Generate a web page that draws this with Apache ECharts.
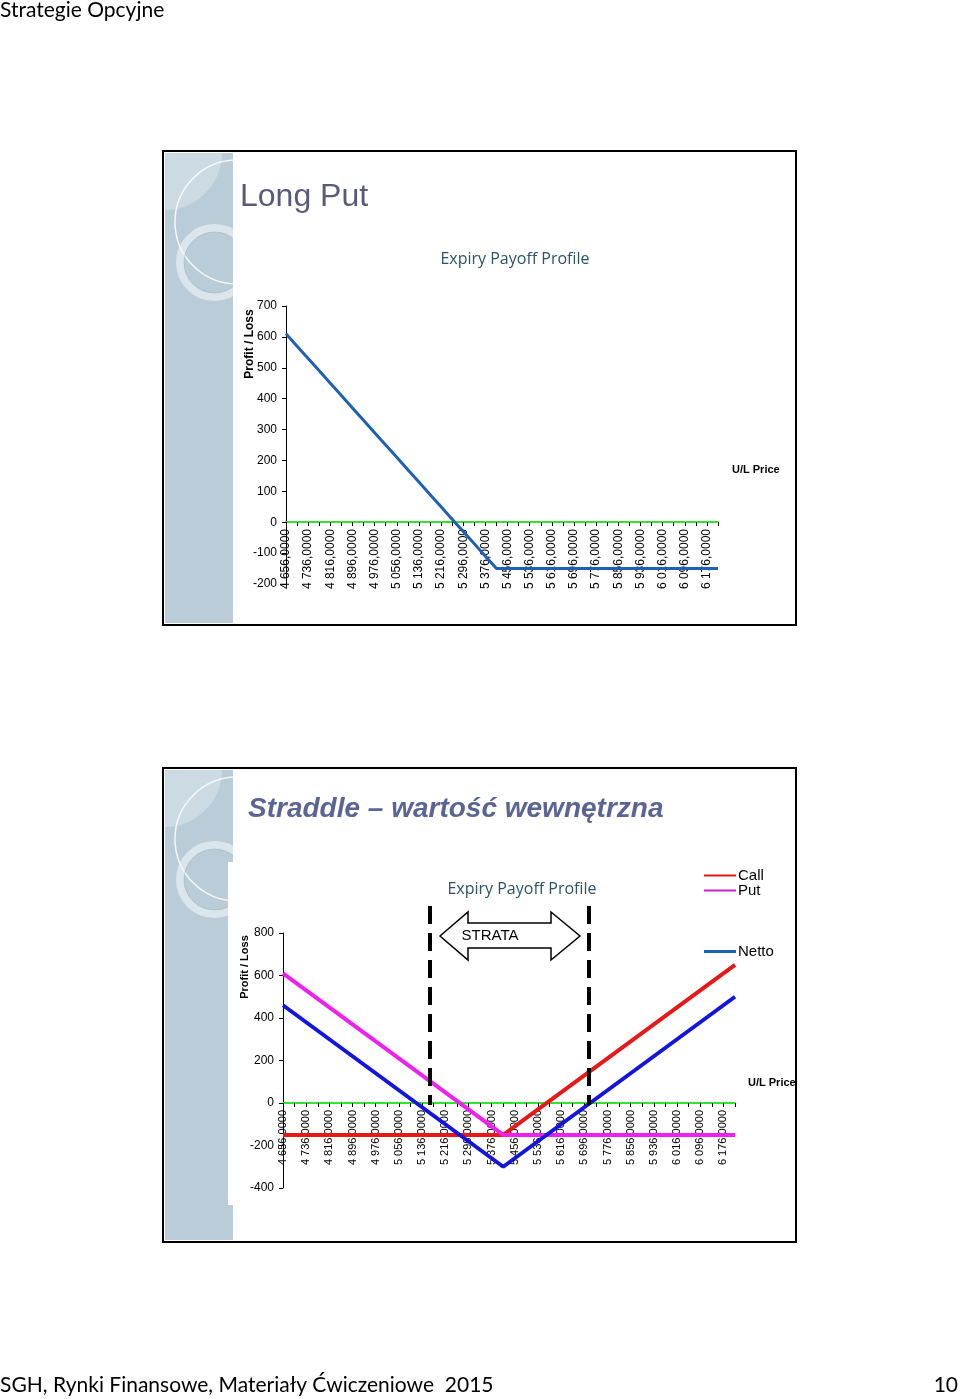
<!DOCTYPE html>
<html><head><meta charset="utf-8">
<script src="https://cdn.jsdelivr.net/npm/echarts@6/dist/echarts.min.js"></script>
<style>html,body{margin:0;padding:0;background:#fff}#c{width:960px;height:1399px}</style>
</head><body><div id="c"></div>
<script>
// ---- data ----
const categories = ['4 656,0000','4 696,0000','4 736,0000','4 776,0000','4 816,0000','4 856,0000','4 896,0000','4 936,0000','4 976,0000','5 016,0000',
  '5 056,0000','5 096,0000','5 136,0000','5 176,0000','5 216,0000','5 256,0000','5 296,0000','5 336,0000','5 376,0000','5 416,0000',
  '5 456,0000','5 496,0000','5 536,0000','5 576,0000','5 616,0000','5 656,0000','5 696,0000','5 736,0000','5 776,0000','5 816,0000',
  '5 856,0000','5 896,0000','5 936,0000','5 976,0000','6 016,0000','6 056,0000','6 096,0000','6 136,0000','6 176,0000','6 216,0000'];
const longPut = [610,570,530,490,450,410,370,330,290,250,210,170,130,90,50,10,-30,-70,-110,-150,
  -150,-150,-150,-150,-150,-150,-150,-150,-150,-150,-150,-150,-150,-150,-150,-150,-150,-150,-150,-150];
const putPayoff = [610,570,530,490,450,410,370,330,290,250,210,170,130,90,50,10,-30,-70,-110,-150,
  -150,-150,-150,-150,-150,-150,-150,-150,-150,-150,-150,-150,-150,-150,-150,-150,-150,-150,-150,-150];
const callPayoff = [-150,-150,-150,-150,-150,-150,-150,-150,-150,-150,-150,-150,-150,-150,-150,-150,-150,-150,-150,-150,
  -110,-70,-30,10,50,90,130,170,210,250,290,330,370,410,450,490,530,570,610,650];
const nettoPayoff = [460,420,380,340,300,260,220,180,140,100,60,20,-20,-60,-100,-140,-180,-220,-260,-300,
  -260,-220,-180,-140,-100,-60,-20,20,60,100,140,180,220,260,300,340,380,420,460,500];
const topYAxis = {min:-200, max:700, interval:100};
const botYAxis = {min:-400, max:800, interval:200};

const AR = 'Liberation Sans';
const chart = echarts.init(document.getElementById('c'), null, {renderer:'canvas'});

function deco(dy){
  const els = [];
  els.push({type:'rect', z:-5, shape:{x:165,y:153+dy,width:68,height:470}, style:{fill:'#b9ccd8'}});
  els.push({type:'sector', z:-4, shape:{cx:165,cy:153+dy,r0:0,r:57,startAngle:0,endAngle:Math.PI/2}, style:{fill:'#cbdae3'}});
  els.push({type:'circle', z:-4, shape:{cx:237,cy:222+dy,r:62}, style:{fill:'none',stroke:'rgba(255,255,255,0.85)',lineWidth:1.5}});
  els.push({type:'circle', z:-4, shape:{cx:214.5,cy:262.5+dy,r:34.5}, style:{fill:'none',stroke:'rgba(240,246,250,0.6)',lineWidth:8}});
  els.push({type:'circle', z:-4, shape:{cx:214.5,cy:262.5+dy,r:30.5}, style:{fill:'none',stroke:'rgba(150,175,190,0.5)',lineWidth:1}});
  els.push({type:'rect', z:-3, shape:{x:233,y:152+dy,width:562,height:472}, style:{fill:'#fff'}});
  els.push({type:'rect', z:20, shape:{x:163,y:151+dy,width:633,height:474}, style:{fill:'none',stroke:'#000',lineWidth:2}});
  return els;
}

const graphics = [].concat(deco(0), deco(617), [
  {type:'rect', z:-3, shape:{x:228,y:862,width:6,height:343}, style:{fill:'#fff'}},
  {type:'text', z:10, style:{x:0,y:10,text:'Strategie Opcyjne',font:'21px Lato',fill:'#000',verticalAlign:'middle'}},
  {type:'text', z:10, style:{x:0,y:1385,text:'SGH, Rynki Finansowe, Materiały Ćwiczeniowe  2015',font:'21px Lato',fill:'#000',verticalAlign:'middle'}},
  {type:'text', z:10, style:{x:958,y:1385,text:'10',font:'21px Lato',fill:'#000',align:'right',verticalAlign:'middle'}},
  {type:'text', z:10, style:{x:240,y:197,text:'Long Put',font:'32px "Liberation Sans"',fill:'#5a5a78',verticalAlign:'middle'}},
  {type:'text', z:10, style:{x:248,y:809,text:'Straddle – wartość wewnętrzna',font:'italic bold 28px "Liberation Sans"',fill:'#5b6492',verticalAlign:'middle'}},
  {type:'text', z:10, style:{x:515,y:259,text:'Expiry Payoff Profile',font:'16px "Open Sans"',fill:'#2d5364',align:'center',verticalAlign:'middle'}},
  {type:'text', z:10, style:{x:522,y:889,text:'Expiry Payoff Profile',font:'16px "Open Sans"',fill:'#2d5364',align:'center',verticalAlign:'middle'}},
  {type:'text', z:10, rotation:Math.PI/2, x:250, y:344, style:{x:0,y:0,text:'Profit / Loss',font:'bold 12px "Liberation Sans"',fill:'#000',align:'center',verticalAlign:'middle'}},
  {type:'text', z:10, rotation:Math.PI/2, x:245, y:967, style:{x:0,y:0,text:'Profit / Loss',font:'bold 11px "Liberation Sans"',fill:'#000',align:'center',verticalAlign:'middle'}},
  {type:'text', z:10, style:{x:732,y:470,text:'U/L Price',font:'bold 11px "Liberation Sans"',fill:'#000',verticalAlign:'middle'}},
  {type:'text', z:10, style:{x:748,y:1083,text:'U/L Price',font:'bold 11px "Liberation Sans"',fill:'#000',verticalAlign:'middle'}},
  {type:'rect', z:15, shape:{x:797,y:1072,width:30,height:22}, style:{fill:'#fff'}},
  {type:'line', z:12, shape:{x1:430,y1:906,x2:430,y2:1105}, style:{stroke:'#000',lineWidth:4,lineDash:[18,9]}},
  {type:'line', z:12, shape:{x1:589,y1:906,x2:589,y2:1105}, style:{stroke:'#000',lineWidth:4,lineDash:[18,9]}},
  {type:'polygon', z:13, shape:{points:[[440,936],[468,912],[468,923],[551,923],[551,912],[580,936],[551,960],[551,948],[468,948],[468,960]]}, style:{fill:'#fff',stroke:'#000',lineWidth:1.5}},
  {type:'text', z:14, style:{x:490,y:936,text:'STRATA',font:'15px "Liberation Sans"',fill:'#000',align:'center',verticalAlign:'middle'}}
]);

function xAx(gi, fs, off){
  return {type:'category', gridIndex:gi, data:categories, boundaryGap:false, offset:off,
    axisLine:{onZero:false, lineStyle:{color:'#2ee62e', width:2}},
    axisTick:{show:true, interval:0, length:4, lineStyle:{color:'#000'}},
    axisLabel:{interval:1, rotate:90, margin:7, fontSize:fs, fontFamily:AR, color:'#000'},
    splitLine:{show:false}};
}
function yAx(gi, r){
  return {type:'value', gridIndex:gi, min:r.min, max:r.max, interval:r.interval,
    axisLine:{show:true, lineStyle:{color:'#000', width:1}},
    axisTick:{show:true, length:4, lineStyle:{color:'#000'}},
    axisLabel:{margin:9, fontSize:12, fontFamily:AR, color:'#000'},
    splitLine:{show:false}};
}

chart.setOption({
  animation:false,
  backgroundColor:'#fff',
  grid:[{left:286, top:306, width:432, height:278},{left:283, top:933, width:452, height:255}],
  xAxis:[xAx(0,12,-62), xAx(1,11,-85)],
  yAxis:[yAx(0,topYAxis), yAx(1,botYAxis)],
  legend:[
    {left:704, top:868, padding:0, orient:'vertical', itemGap:0, icon:'rect', itemWidth:32, itemHeight:2,
     data:[{name:'Call'},{name:'Put'}], selectedMode:false,
     textStyle:{fontSize:15, fontFamily:AR, color:'#000', lineHeight:13, padding:[0,0,0,-3]}},
    {left:704, top:944, padding:0, orient:'vertical', icon:'rect', itemWidth:32, itemHeight:3,
     data:[{name:'Netto', itemStyle:{color:'#2060b4'}}], selectedMode:false,
     textStyle:{fontSize:15, fontFamily:AR, color:'#000', lineHeight:15, padding:[0,0,0,-3]}}
  ],
  graphic:graphics,
  series:[
    {name:'Long Put', type:'line', xAxisIndex:0, yAxisIndex:0, data:longPut, symbol:'none', lineStyle:{color:'#2060b4', width:3}, itemStyle:{color:'#2060b4'}},
    {name:'Call', type:'line', xAxisIndex:1, yAxisIndex:1, data:callPayoff, symbol:'none', lineStyle:{color:'#e81818', width:4}, itemStyle:{color:'#d81818'}},
    {name:'Put', type:'line', xAxisIndex:1, yAxisIndex:1, data:putPayoff, symbol:'none', lineStyle:{color:'#f020f0', width:4}, itemStyle:{color:'#d020d0'}},
    {name:'Netto', type:'line', xAxisIndex:1, yAxisIndex:1, data:nettoPayoff, symbol:'none', lineStyle:{color:'#1414e0', width:4}, itemStyle:{color:'#2060b4'}}
  ]
});
</script></body></html>
